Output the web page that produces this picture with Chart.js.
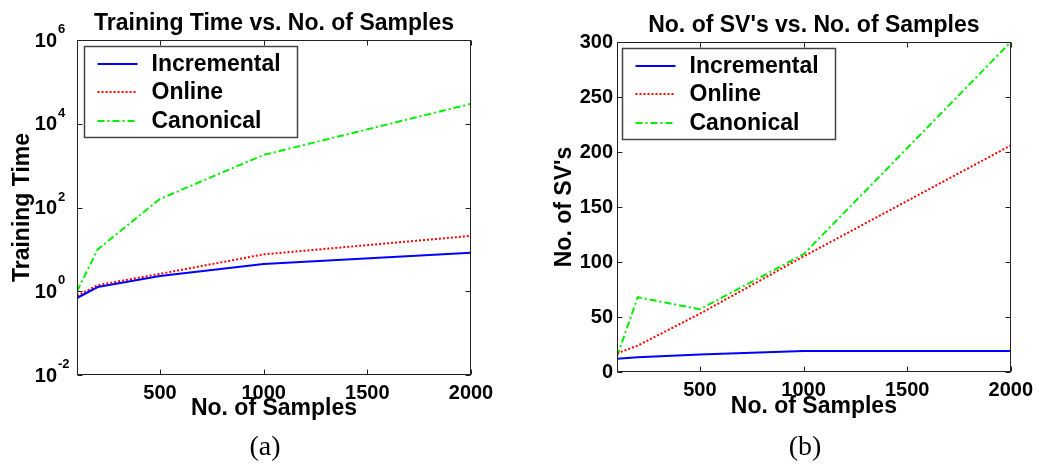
<!DOCTYPE html>
<html><head><meta charset="utf-8">
<script src="https://cdn.jsdelivr.net/npm/chart.js@4"></script>
<style>
html,body{margin:0;padding:0;background:#fff;width:1039px;height:464px;overflow:hidden;}
.wrap{position:absolute;top:0;height:464px;}
#wa{left:0;width:520px;}
#wb{left:520px;width:519px;}
.cap{position:absolute;font-family:"Liberation Serif","DejaVu Serif",serif;font-size:28px;line-height:28px;top:432px;transform:translateX(-50%);color:#000;}
</style></head>
<body>
<div class="wrap" id="wa"><canvas id="ca"></canvas></div>
<div class="wrap" id="wb"><canvas id="cb"></canvas></div>
<div class="cap" style="left:265px">(a)</div>
<div class="cap" style="left:805px">(b)</div>
<script>
// ---- data ----
const samples = [100, 200, 500, 1000, 2000];
const seriesNames = ['Incremental', 'Online', 'Canonical'];
const timeIncremental = [0.69, 1.26, 2.3, 4.5, 8.3];
const timeOnline = [0.78, 1.4, 2.6, 7.6, 21];
const timeCanonical = [1.0, 10, 160, 1800, 30000];
const svIncremental = [12, 13.5, 16, 19, 19];
const svOnline = [17, 24, 53, 105, 206];
const svCanonical = [14, 68, 57, 107, 300];
const xTickValues = [500, 1000, 1500, 2000];
const logTickExponents = [-2, 0, 2, 4, 6];
const svTickValues = [0, 50, 100, 150, 200, 250, 300];

const FONT = '"Liberation Sans", Arial, sans-serif';
const seriesStyles = [
  {color: '#0000ff', dash: []},
  {color: '#ff0000', dash: [2, 2]},
  {color: '#00ee00', dash: [7, 3, 2, 3]}
];

function makeDatasets(arrs) {
  return arrs.map((vals, i) => ({
    label: seriesNames[i],
    data: samples.map((s, k) => ({x: s, y: vals[k]})),
    borderColor: seriesStyles[i].color,
    borderDash: seriesStyles[i].dash,
    borderWidth: 2,
    pointRadius: 0,
    tension: 0,
    fill: false
  }));
}

const framePlugin = {
  id: 'frame',
  afterDatasetsDraw(chart, args, opts) {
    const {ctx, chartArea: {left, right, top, bottom}, scales: {x, y}} = chart;
    ctx.save();
    ctx.strokeStyle = '#222';
    ctx.lineWidth = 1;
    const L = Math.round(left) + 0.5, R = Math.round(right) - 0.5, T = Math.round(top) + 0.5, B = Math.round(bottom) - 0.5;
    ctx.strokeRect(L, T, R - L, B - T);
    const tl = 5;
    ctx.beginPath();
    x.ticks.forEach(t => {
      const px = Math.round(x.getPixelForValue(t.value)) + 0.5;
      ctx.moveTo(px, B); ctx.lineTo(px, B - tl);
      ctx.moveTo(px, T); ctx.lineTo(px, T + tl);
    });
    y.ticks.forEach(t => {
      const py = Math.round(y.getPixelForValue(t.value)) + 0.5;
      ctx.moveTo(L, py); ctx.lineTo(L + tl, py);
      ctx.moveTo(R, py); ctx.lineTo(R - tl, py);
    });
    ctx.stroke();

    // log tick labels with superscripts
    if (opts.logLabels) {
      ctx.fillStyle = '#000';
      y.ticks.forEach(t => {
        const py = y.getPixelForValue(t.value);
        const e = Math.round(Math.log10(t.value));
        ctx.font = 'bold 20px ' + FONT;
        ctx.textAlign = 'right';
        ctx.textBaseline = 'middle';
        ctx.fillText('10', left - 20, py + 1);
        ctx.font = 'bold 13px ' + FONT;
        ctx.textAlign = 'left';
        ctx.textBaseline = 'alphabetic';
        ctx.fillText(String(e), left - 19, py - 7);
      });
    }

    // legend box
    const bx = Math.round(left) + opts.legendDx + 0.5, by = Math.round(top) + 6 + 0.5;
    const bw = 213, bh = 91;
    ctx.fillStyle = '#fff';
    ctx.fillRect(bx, by, bw, bh);
    ctx.strokeStyle = '#444';
    ctx.lineWidth = 1.5;
    ctx.strokeRect(bx, by, bw, bh);
    chart.data.datasets.forEach((ds, i) => {
      const ly = Math.round(by + 17.5 + i * 28.3);
      ctx.save();
      ctx.strokeStyle = ds.borderColor;
      ctx.lineWidth = 2;
      ctx.setLineDash(ds.borderDash);
      ctx.beginPath();
      ctx.moveTo(bx + 13, ly); ctx.lineTo(bx + 53, ly);
      ctx.stroke();
      ctx.restore();
      ctx.fillStyle = '#000';
      ctx.font = 'bold 23px ' + FONT;
      ctx.textAlign = 'left';
      ctx.textBaseline = 'middle';
      ctx.fillText(ds.label, bx + 67, ly + 1);
    });
    ctx.restore();
  }
};

function makeChart(id, cfg) {
  return new Chart(document.getElementById(id), {
    type: 'line',
    data: {datasets: makeDatasets(cfg.arrs)},
    plugins: [framePlugin],
    options: {
      responsive: true,
      maintainAspectRatio: false,
      animation: false,
      devicePixelRatio: 1,
      layout: {padding: {left: 0, right: cfg.padRight, top: 0, bottom: 0}},
      plugins: {
        legend: {display: false},
        tooltip: {enabled: false},
        title: {
          display: true, text: cfg.title, fullSize: false, color: '#000',
          font: {family: FONT, size: 23, weight: 'bold'},
          padding: {top: cfg.titlePadTop, bottom: cfg.titlePadBottom}
        },
        frame: {logLabels: cfg.log, legendDx: cfg.legendDx}
      },
      scales: {
        x: {
          type: 'linear', min: 100, max: 2000,
          afterBuildTicks: s => { s.ticks = xTickValues.map(v => ({value: v})); },
          afterFit: s => { s.height = cfg.xHeight; },
          grid: {display: false, drawTicks: false},
          border: {display: false},
          ticks: {color: '#000', font: {family: FONT, size: 20, weight: 'bold'}, padding: 6, maxRotation: 0, autoSkip: false,
            callback: v => String(v)},
          title: {display: true, text: 'No. of Samples', color: '#000',
            font: {family: FONT, size: 23, weight: 'bold'}, padding: {top: 0, bottom: cfg.xTitlePadBottom}}
        },
        y: cfg.log ? {
          type: 'logarithmic', min: 0.01, max: 1e6,
          afterBuildTicks: s => { s.ticks = logTickExponents.map(e => ({value: Math.pow(10, e)})); },
          afterFit: s => { s.width = cfg.yWidth; },
          grid: {display: false, drawTicks: false},
          border: {display: false},
          ticks: {display: false},
          title: {display: true, text: cfg.yTitle, color: '#000',
            font: {family: FONT, size: 23, weight: 'bold'}, padding: {top: cfg.yTitlePad, bottom: 0}}
        } : {
          type: 'linear', min: 0, max: 300,
          afterBuildTicks: s => { s.ticks = svTickValues.map(v => ({value: v})); },
          afterFit: s => { s.width = cfg.yWidth; },
          grid: {display: false, drawTicks: false},
          border: {display: false},
          ticks: {color: '#000', font: {family: FONT, size: 20, weight: 'bold'}, padding: 4, callback: v => String(v)},
          title: {display: true, text: cfg.yTitle, color: '#000',
            font: {family: FONT, size: 23, weight: 'bold'}, padding: {top: cfg.yTitlePad, bottom: 0}}
        }
      }
    }
  });
}

makeChart('ca', {
  arrs: [timeIncremental, timeOnline, timeCanonical],
  title: 'Training Time vs. No. of Samples', yTitle: 'Training Time', log: true,
  padRight: 49, yWidth: 77, xHeight: 89, xTitlePadBottom: 42, yTitlePad: 9,
  titlePadTop: 10, titlePadBottom: 2.4, legendDx: 7
});
makeChart('cb', {
  arrs: [svIncremental, svOnline, svCanonical],
  title: "No. of SV's vs. No. of Samples", yTitle: "No. of SV's", log: false,
  padRight: 28, yWidth: 97, xHeight: 92, xTitlePadBottom: 44, yTitlePad: 31,
  titlePadTop: 12, titlePadBottom: 2.4, legendDx: 5
});
</script>
</body></html>
